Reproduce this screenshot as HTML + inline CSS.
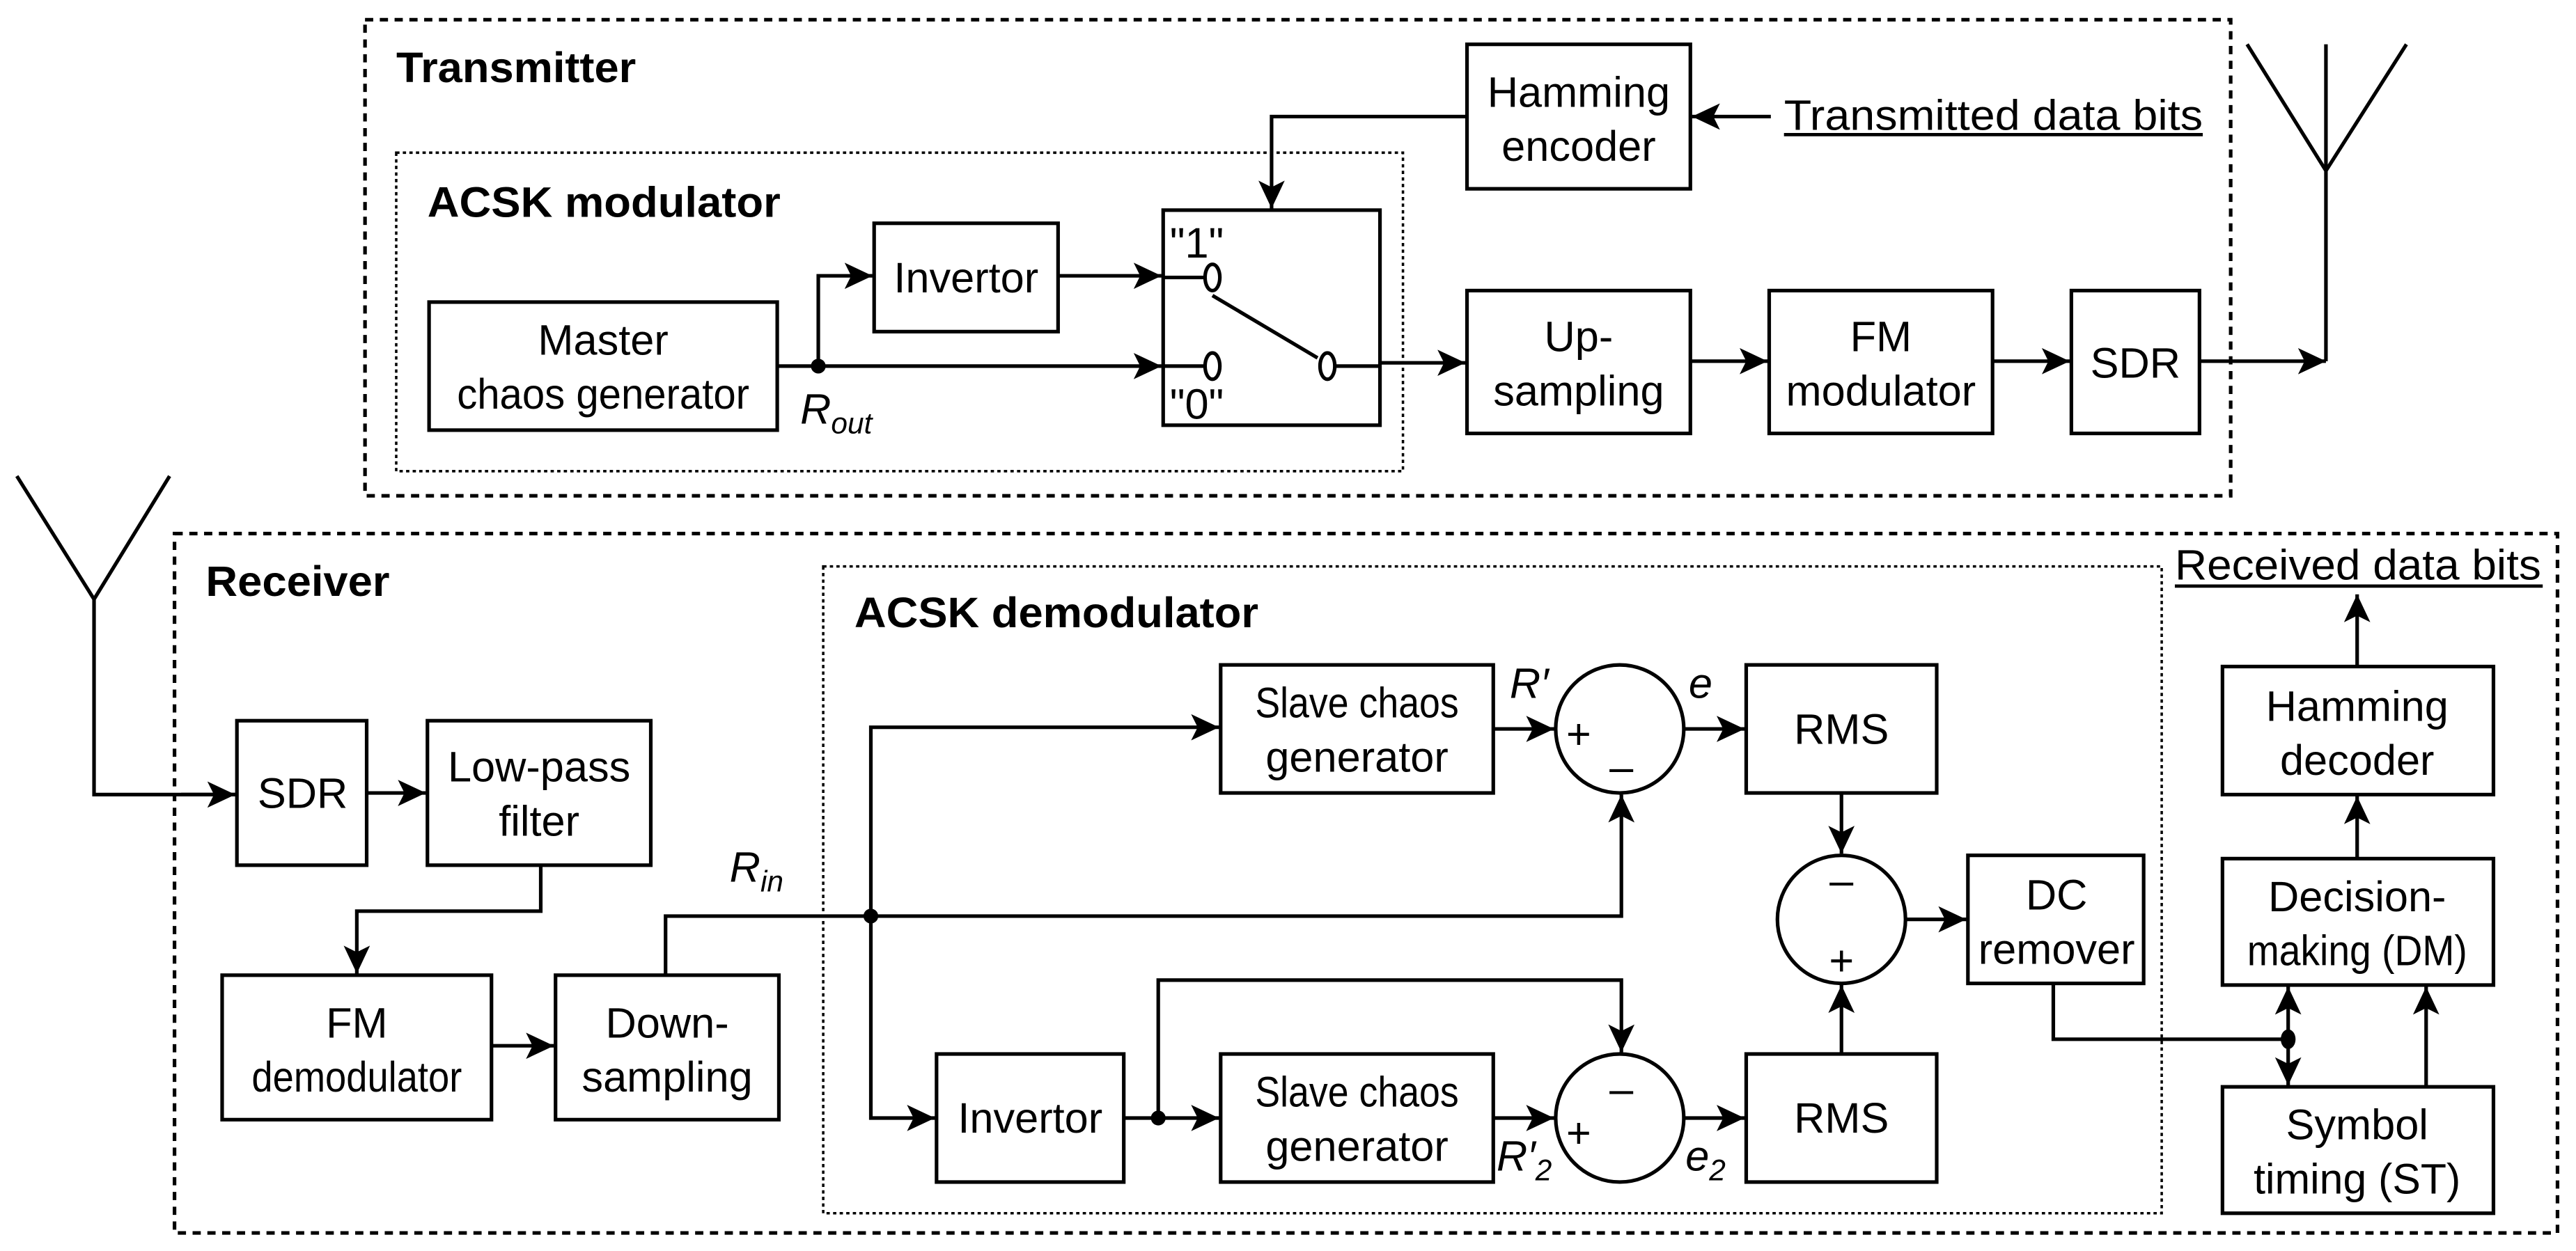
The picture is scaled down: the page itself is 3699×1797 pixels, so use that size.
<!DOCTYPE html>
<html><head><meta charset="utf-8"><style>
html,body{margin:0;padding:0;background:#fff;}
svg{display:block}
text{font-family:"Liberation Sans",sans-serif;font-size:26px;fill:#000}
.b{font-weight:bold}
.i{font-style:italic}
</style></head><body>
<svg width="3699" height="1797" viewBox="0 0 1568 762" xmlns="http://www.w3.org/2000/svg">
<defs><marker id="a" markerWidth="18" markerHeight="18" refX="17" refY="8" orient="auto" markerUnits="userSpaceOnUse"><path d="M0,0 L17,8 L0,16 L4,8 z" fill="#000"/></marker></defs>
<g fill="none" stroke="#000" stroke-width="2.2">
<rect x="222" y="12" width="1136" height="290" stroke-dasharray="5,4"/>
<rect x="241" y="93" width="613" height="194" stroke-dasharray="2,2" stroke-width="1.5"/>
<rect x="106" y="325" width="1451" height="426" stroke-dasharray="5,4"/>
<rect x="501" y="345" width="815" height="394" stroke-dasharray="2,2" stroke-width="1.5"/>
<rect x="893" y="27" width="136" height="88"/>
<rect x="261" y="184" width="212" height="78"/>
<rect x="532" y="136" width="112" height="66"/>
<rect x="708" y="128" width="132" height="131"/>
<rect x="893" y="177" width="136" height="87"/>
<rect x="1077" y="177" width="136" height="87"/>
<rect x="1261" y="177" width="78" height="87"/>
<rect x="144" y="439" width="79" height="88"/>
<rect x="260" y="439" width="136" height="88"/>
<rect x="135" y="594" width="164" height="88"/>
<rect x="338" y="594" width="136" height="88"/>
<rect x="743" y="405" width="166" height="78"/>
<rect x="1063" y="405" width="116" height="78"/>
<rect x="1198" y="521" width="107" height="78"/>
<rect x="570" y="642" width="114" height="78"/>
<rect x="743" y="642" width="166" height="78"/>
<rect x="1063" y="642" width="116" height="78"/>
<rect x="1353" y="406" width="165" height="78"/>
<rect x="1353" y="523" width="165" height="77"/>
<rect x="1353" y="662" width="165" height="77"/>
<circle cx="986" cy="444" r="39"/>
<circle cx="1121" cy="560" r="39"/>
<circle cx="986" cy="681" r="39"/>
<ellipse cx="738" cy="169" rx="4.5" ry="8"/>
<ellipse cx="738" cy="223" rx="4.5" ry="8"/>
<ellipse cx="808" cy="223" rx="4.5" ry="8"/>
<path d="M738,180 L802,218"/>
<path d="M1078,71 L1030,71" marker-end="url(#a)"/>
<path d="M893,71 L774,71 L774,127" marker-end="url(#a)"/>
<path d="M473,223 L707,223" marker-end="url(#a)"/>
<path d="M498,223 L498,168 L531,168" marker-end="url(#a)"/>
<path d="M644,168 L707,168" marker-end="url(#a)"/>
<path d="M733,169 L708,169 M733,223 L708,223 M813,223 L840,223"/>
<path d="M840,221 L892,221" marker-end="url(#a)"/>
<path d="M1029,220 L1076,220" marker-end="url(#a)"/>
<path d="M1213,220 L1260,220" marker-end="url(#a)"/>
<path d="M1339,220 L1416,220" marker-end="url(#a)"/>
<path d="M1416,27 L1416,220 M1368,27 L1416,104 L1465,27"/>
<path d="M10,290 L57,365 L103,290 M57,365 L57,484 L143,484"/>
<path d="M110,484 L143,484" marker-end="url(#a)"/>
<path d="M223,483 L259,483" marker-end="url(#a)"/>
<path d="M329,527 L329,555 L217,555 L217,593" marker-end="url(#a)"/>
<path d="M299,637 L337,637" marker-end="url(#a)"/>
<path d="M405,594 L405,558 L987,558 L987,484" marker-end="url(#a)"/>
<path d="M530,558 L530,443 L742,443" marker-end="url(#a)"/>
<path d="M530,558 L530,681 L569,681" marker-end="url(#a)"/>
<path d="M909,444 L946,444" marker-end="url(#a)"/>
<path d="M1025,444 L1062,444" marker-end="url(#a)"/>
<path d="M1121,483 L1121,520" marker-end="url(#a)"/>
<path d="M1121,642 L1121,600" marker-end="url(#a)"/>
<path d="M1160,560 L1197,560" marker-end="url(#a)"/>
<path d="M684,681 L742,681" marker-end="url(#a)"/>
<path d="M705,681 L705,597 L987,597 L987,641" marker-end="url(#a)"/>
<path d="M909,681 L946,681" marker-end="url(#a)"/>
<path d="M1025,681 L1062,681" marker-end="url(#a)"/>
<path d="M1250,599 L1250,633 L1393,633"/>
<path d="M1393,633 L1393,601" marker-end="url(#a)"/>
<path d="M1393,633 L1393,661" marker-end="url(#a)"/>
<path d="M1477,662 L1477,601" marker-end="url(#a)"/>
<path d="M1435,523 L1435,485" marker-end="url(#a)"/>
<path d="M1435,406 L1435,362" marker-end="url(#a)"/>
<path d="M1086,82 L1341,82 M1324,357 L1548,357" stroke-width="2"/>
</g>
<g fill="#000">
<circle cx="498" cy="223" r="4.5"/>
<circle cx="530" cy="558" r="4.5"/>
<circle cx="705" cy="681" r="4.5"/>
<ellipse cx="1393" cy="633" rx="4.5" ry="6"/>
</g>
<g text-anchor="middle">
<text x="961" y="65">Hamming</text><text x="961" y="98">encoder</text>
<text x="367" y="216">Master</text><text x="367" y="249" textLength="178" lengthAdjust="spacingAndGlyphs">chaos generator</text>
<text x="588" y="178">Invertor</text>
<text x="961" y="214">Up-</text><text x="961" y="247">sampling</text>
<text x="1145" y="214">FM</text><text x="1145" y="247">modulator</text>
<text x="1300" y="230">SDR</text>
<text x="184" y="492">SDR</text>
<text x="328" y="476">Low-pass</text><text x="328" y="509">filter</text>
<text x="217" y="632">FM</text><text x="217" y="665" textLength="128" lengthAdjust="spacingAndGlyphs">demodulator</text>
<text x="406" y="632">Down-</text><text x="406" y="665">sampling</text>
<text x="826" y="437" textLength="124" lengthAdjust="spacingAndGlyphs">Slave chaos</text><text x="826" y="470">generator</text>
<text x="1121" y="453">RMS</text>
<text x="1252" y="554">DC</text><text x="1252" y="587">remover</text>
<text x="627" y="690">Invertor</text>
<text x="826" y="674" textLength="124" lengthAdjust="spacingAndGlyphs">Slave chaos</text><text x="826" y="707">generator</text>
<text x="1121" y="690">RMS</text>
<text x="1435" y="439">Hamming</text><text x="1435" y="472">decoder</text>
<text x="1435" y="555">Decision-</text><text x="1435" y="588" textLength="134" lengthAdjust="spacingAndGlyphs">making (DM)</text>
<text x="1435" y="694">Symbol</text><text x="1435" y="727" textLength="126" lengthAdjust="spacingAndGlyphs">timing (ST)</text>
<text x="961" y="456">+</text><text x="987" y="476" font-size="30">–</text>
<text x="1121" y="545" font-size="30">–</text><text x="1121" y="594">+</text>
<text x="987" y="672" font-size="30">–</text><text x="961" y="699">+</text>
</g>
<text x="241" y="50" class="b" textLength="146" lengthAdjust="spacingAndGlyphs">Transmitter</text>
<text x="260" y="132" class="b" textLength="215" lengthAdjust="spacingAndGlyphs">ACSK modulator</text>
<text x="125" y="363" class="b" textLength="112" lengthAdjust="spacingAndGlyphs">Receiver</text>
<text x="520" y="382" class="b" textLength="246" lengthAdjust="spacingAndGlyphs">ACSK demodulator</text>
<text x="1086" y="79" textLength="255" lengthAdjust="spacingAndGlyphs">Transmitted data bits</text>
<text x="1324" y="353" textLength="223" lengthAdjust="spacingAndGlyphs">Received data bits</text>
<text x="712" y="157">"1"</text>
<text x="712" y="255">"0"</text>
<text x="487" y="258" class="i">R<tspan font-size="18" dy="6">out</tspan></text>
<text x="444" y="537" class="i">R<tspan font-size="18" dy="6">in</tspan></text>
<text x="919" y="425" class="i">R′</text>
<text x="1028" y="425" class="i">e</text>
<text x="911" y="713" class="i">R′<tspan font-size="18" dy="6">2</tspan></text>
<text x="1026" y="713" class="i">e<tspan font-size="18" dy="6">2</tspan></text>
</svg>
</body></html>
